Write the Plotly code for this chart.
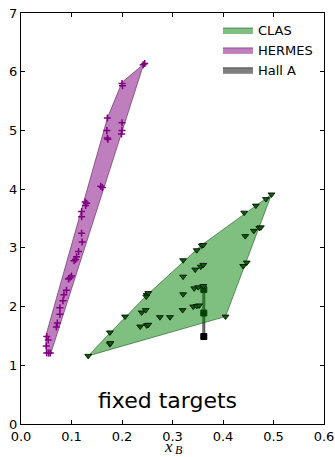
import plotly.graph_objects as go

# ---------------- data ----------------
# Coverage polygons (x_B, Q^2)
clas_poly_x = [0.133, 0.176, 0.250, 0.358, 0.496, 0.405, 0.133]
clas_poly_y = [1.16, 1.55, 2.20, 3.05, 3.91, 1.83, 1.16]

hermes_poly_x = [0.050, 0.049, 0.171, 0.200, 0.243, 0.059, 0.050]
hermes_poly_y = [1.20, 1.50, 5.21, 5.82, 6.13, 1.20, 1.20]

halla_poly_x = [0.360, 0.364, 0.364, 0.360, 0.360]
halla_poly_y = [1.49, 1.49, 2.29, 2.29, 1.49]

# Measured kinematic points
clas_x = [0.496, 0.485, 0.465, 0.442, 0.444, 0.461, 0.472, 0.475, 0.447, 0.440,
          0.358, 0.361, 0.348, 0.321, 0.321, 0.345, 0.356, 0.361, 0.343, 0.351,
          0.361, 0.321, 0.320, 0.341, 0.348, 0.353, 0.249, 0.252, 0.248, 0.239,
          0.247, 0.275, 0.295, 0.206, 0.405, 0.176, 0.176, 0.177, 0.236, 0.249,
          0.252, 0.133]
clas_y = [3.91, 3.83, 3.72, 3.60, 3.20, 3.29, 3.34, 3.35, 2.75, 2.69,
          3.04, 3.05, 2.96, 2.79, 2.51, 2.63, 2.68, 2.71, 2.31, 2.33,
          2.35, 2.21, 1.94, 2.00, 2.01, 2.02, 2.20, 2.23, 2.17, 1.90,
          1.94, 1.82, 1.82, 1.83, 1.83, 1.56, 1.36, 1.38, 1.66, 1.68,
          1.69, 1.16]

hermes_x = [0.130, 0.127, 0.128, 0.120, 0.120, 0.120, 0.121, 0.114, 0.110, 0.108,
            0.105, 0.097, 0.100, 0.094, 0.090, 0.085, 0.083, 0.077, 0.077, 0.070,
            0.072, 0.051, 0.054, 0.050, 0.051, 0.055, 0.058, 0.158, 0.161, 0.171,
            0.170, 0.171, 0.172, 0.200, 0.200, 0.199, 0.200, 0.201, 0.242, 0.245]
hermes_y = [3.76, 3.78, 3.72, 3.62, 3.53, 3.25, 3.10, 2.94, 2.85, 2.80,
            2.78, 2.49, 2.52, 2.47, 2.28, 2.20, 2.10, 1.98, 1.87, 1.65,
            1.72, 1.49, 1.43, 1.33, 1.21, 1.21, 1.21, 4.05, 4.03, 5.21,
            5.00, 4.87, 4.85, 5.13, 5.00, 4.94, 5.80, 5.76, 6.12, 6.14]

halla_x = [0.362, 0.362, 0.362]
halla_y = [2.29, 1.89, 1.49]

x_ticks = [0.0, 0.1, 0.2, 0.3, 0.4, 0.5, 0.6]
x_tick_labels = ["0.0", "0.1", "0.2", "0.3", "0.4", "0.5", "0.6"]
y_ticks = [0, 1, 2, 3, 4, 5, 6, 7]
y_tick_labels = ["0", "1", "2", "3", "4", "5", "6", "7"]

# ---------------- figure ----------------
fig = go.Figure()

# Hall A (drawn first, beneath CLAS)
fig.add_trace(go.Scatter(
    x=halla_poly_x, y=halla_poly_y, mode="lines", fill="toself",
    fillcolor="rgba(0,0,0,0.5)", line=dict(color="rgba(0,0,0,0.55)", width=1),
    name="Hall A", legendrank=3, hoverinfo="skip"))
fig.add_trace(go.Scatter(
    x=halla_x, y=halla_y, mode="markers", showlegend=False,
    marker=dict(symbol="square", size=6, color="black",
                line=dict(color="black", width=1))))

# CLAS
fig.add_trace(go.Scatter(
    x=clas_poly_x, y=clas_poly_y, mode="lines", fill="toself",
    fillcolor="rgba(0,128,0,0.5)", line=dict(color="rgba(0,60,0,0.5)", width=1),
    name="CLAS", legendrank=1, hoverinfo="skip"))
fig.add_trace(go.Scatter(
    x=clas_x, y=clas_y, mode="markers", showlegend=False,
    marker=dict(symbol="triangle-down", size=6, color="#006400",
                line=dict(color="black", width=0.8))))

# HERMES
fig.add_trace(go.Scatter(
    x=hermes_poly_x, y=hermes_poly_y, mode="lines", fill="toself",
    fillcolor="rgba(128,0,128,0.5)", line=dict(color="rgba(60,0,60,0.5)", width=1),
    name="HERMES", legendrank=2, hoverinfo="skip"))
fig.add_trace(go.Scatter(
    x=hermes_x, y=hermes_y, mode="markers", showlegend=False,
    marker=dict(symbol="cross-thin", size=5, color="purple",
                line=dict(color="purple", width=1.5))))

fig.add_annotation(x=0.29, y=0.40, xref="x", yref="y", text="fixed targets",
                   showarrow=False, font=dict(size=22, color="black",
                                              family="DejaVu Sans"))

# x-axis label: italic x with subscript B
fig.add_annotation(x=0.3, y=0, xref="x", yref="paper", xshift=-4, yshift=-22,
                   yanchor="middle", text="<i>x</i>", showarrow=False,
                   font=dict(size=17, family="Liberation Serif", color="black"))
fig.add_annotation(x=0.3, y=0, xref="x", yref="paper", xshift=6, yshift=-26,
                   yanchor="middle", text="<i>B</i>", showarrow=False,
                   font=dict(size=12, family="Liberation Serif", color="black"))

axis_common = dict(showgrid=False, zeroline=False, showline=True,
                   linecolor="black", linewidth=1, mirror="allticks",
                   ticks="inside", ticklen=4, tickcolor="black",
                   automargin=False,
                   tickfont=dict(size=13, color="black", family="DejaVu Sans"))

fig.update_xaxes(range=[0, 0.6], tickvals=x_ticks, ticktext=x_tick_labels,
                 **axis_common)
fig.update_yaxes(range=[0, 7], tickvals=y_ticks, ticktext=y_tick_labels,
                 **axis_common)

fig.update_layout(
    width=335, height=457,
    margin=dict(l=21, r=11, t=13, b=33),
    plot_bgcolor="white", paper_bgcolor="white",
    font=dict(family="DejaVu Sans", color="black"),
    legend=dict(x=0.98, xanchor="right", y=0.995, yanchor="top",
                bgcolor="rgba(0,0,0,0)", font=dict(size=13),
                itemwidth=30, tracegroupgap=2),
)

fig.write_html("out.html")
